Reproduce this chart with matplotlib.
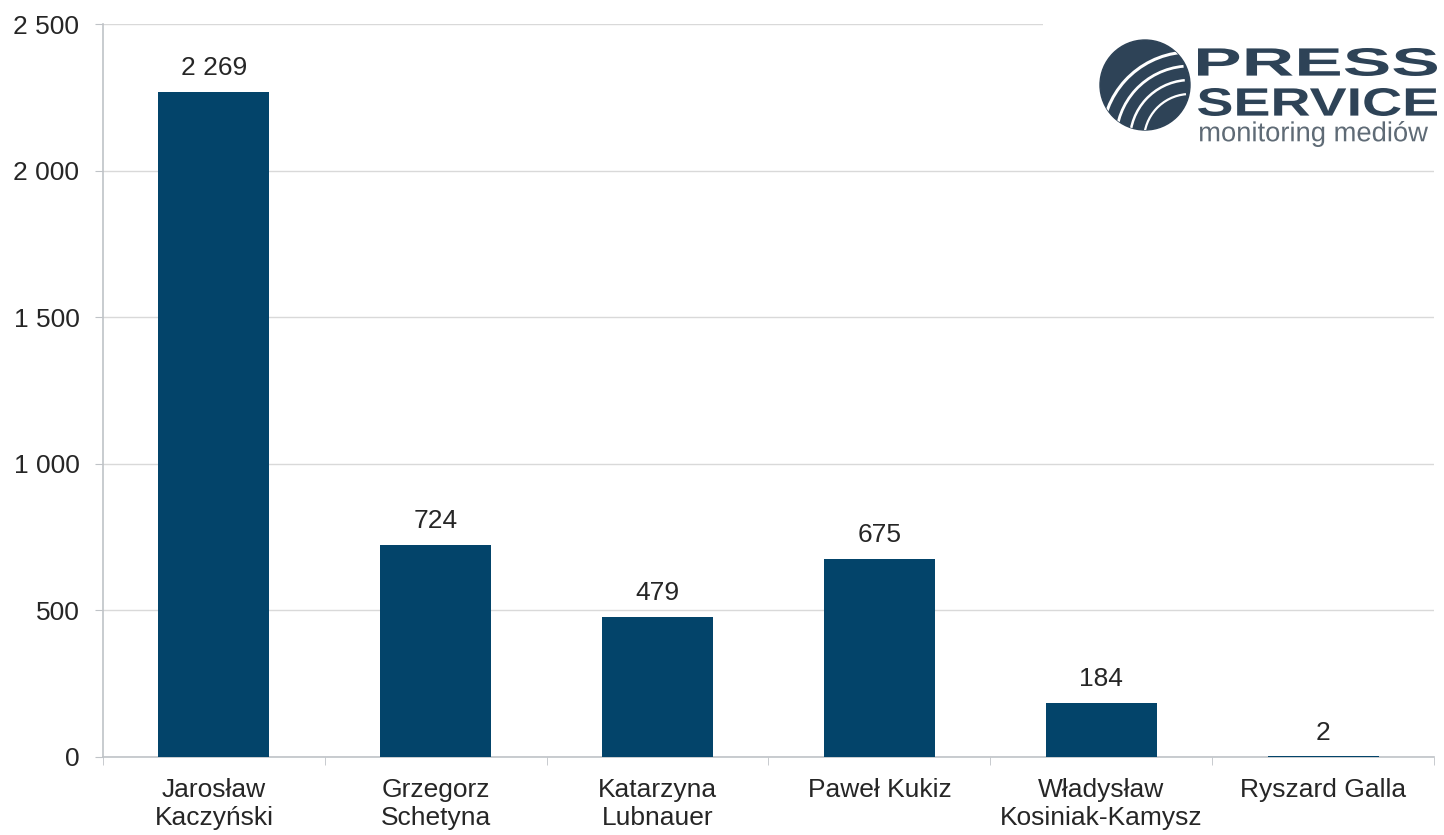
import matplotlib
matplotlib.use("Agg")
import matplotlib.pyplot as plt
import numpy as np
from matplotlib.textpath import TextPath
from matplotlib.patches import PathPatch, Circle, Arc, Rectangle
from matplotlib.font_manager import FontProperties
from matplotlib.transforms import Affine2D
from matplotlib.ticker import FuncFormatter, MultipleLocator

categories = ["Jarosław\nKaczyński", "Grzegorz\nSchetyna", "Katarzyna\nLubnauer",
              "Paweł Kukiz", "Władysław\nKosiniak-Kamysz", "Ryszard Galla"]
values = [2269, 724, 479, 675, 184, 2]
value_labels = ["2 269", "724", "479", "675", "184", "2"]

BAR = "#03446A"
TXT = "#262626"
FS = 19
plt.rcParams['font.family'] = ['Liberation Sans', 'DejaVu Sans']

fig = plt.figure(figsize=(14.44, 8.35), dpi=100)
ax = fig.add_axes([103/1444, 1-757/835, (1434-103)/1444, (757-24)/835])

x = np.arange(len(categories))
ax.bar(x, values, width=0.5, color=BAR, zorder=3)
ax.set_xlim(-0.5, len(categories)-0.5)
ax.set_ylim(0, 2500)
ax.yaxis.set_major_locator(MultipleLocator(500))
ax.yaxis.set_major_formatter(FuncFormatter(lambda v, p: f"{int(v):,}".replace(",", " ")))
ax.grid(axis='y', color='#d9d9d9', linewidth=1.0, zorder=0)
for s in ['top', 'right']:
    ax.spines[s].set_visible(False)
for s in ['left', 'bottom']:
    ax.spines[s].set_color('#bfc3c7')
    ax.spines[s].set_linewidth(1.2)
ax.tick_params(axis='y', length=6, color='#bfc3c7', labelsize=FS, labelcolor=TXT, pad=11)
ax.set_xticks(x)
ax.set_xticklabels(categories, fontsize=FS, color=TXT, linespacing=1.22)
ax.tick_params(axis='x', length=0, pad=15)
ax.set_xticks(np.arange(-0.5, len(categories)), minor=True)
ax.tick_params(axis='x', which='minor', length=6, color='#bfc3c7')

for xi, v, lab in zip(x, values, value_labels):
    ax.annotate(lab, (xi, v), xytext=(0, 17), textcoords='offset points',
                ha='center', va='center', fontsize=FS, color=TXT)

# logo
lax = fig.add_axes([1043/1444, 1-160/835, (1444-1043)/1444, 160/835])
lax.set_xlim(1043, 1444)
lax.set_ylim(160, 0)
lax.axis('off')
lax.add_patch(Rectangle((1043, 0), 401, 160, color='white', zorder=0))
LOGO = "#2E4357"
circ = Circle((1145, 85), 45, color=LOGO, zorder=1)
lax.add_patch(circ)
for i, r in enumerate([88, 74, 60, 46]):
    a = Arc((1190, 140), 2*r, 2*r, theta1=180, theta2=265, color='white',
            lw=2.2 - i*0.2, zorder=2)
    lax.add_patch(a)
    a.set_clip_path(circ)

def fit_text(s, x0, x1, y0, y1, color, weight):
    fp = FontProperties(family='Liberation Sans', weight=weight)
    tp = TextPath((0, 0), s, size=100, prop=fp)
    bb = tp.get_extents()
    sx = (x1 - x0) / bb.width
    sy = (y1 - y0) / bb.height
    tr = Affine2D().translate(-bb.x0, -bb.y0).scale(sx, -sy).translate(x0, y1)
    path = tr.transform_path(tp)
    lax.add_patch(PathPatch(path, color=color, lw=0, zorder=3))

fit_text("PRESS", 1198, 1437, 48, 76, LOGO, 'bold')
fit_text("SERVICE", 1198, 1437, 88, 116, LOGO, 'bold')
fit_text("monitoring mediów", 1200, 1428, 121, 147, "#5f6b76", 'normal')

fig.savefig("out.png", dpi=100)
